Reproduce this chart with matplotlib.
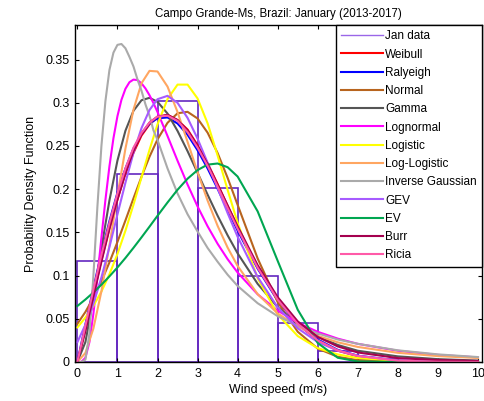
import matplotlib
matplotlib.use("Agg")
from matplotlib import pyplot as plt
from matplotlib.lines import Line2D

plt.rcParams['font.family'] = ['Liberation Sans', 'DejaVu Sans']

# histogram of January wind speed (1 m/s bins)
bin_centers = [0.5, 1.5, 2.5, 3.5, 4.5, 5.5, 6.5, 7.5, 8.5, 9.5]
bin_heights = [0.117, 0.217, 0.302, 0.201, 0.099, 0.045, 0.013, 0.004, 0.001, 0.0005]

x_main = [0, 0.2, 0.4, 0.6, 0.8, 1.0, 1.2, 1.4, 1.6, 1.8, 2.0, 2.25, 2.5, 2.75,
          3.0, 3.25, 3.5, 3.75, 4.0, 4.5, 5.0, 5.5, 6.0, 6.5, 7.0, 8.0, 9.0, 10.0]
x_fine = [0, 0.1, 0.2, 0.3, 0.4, 0.5, 0.6, 0.7, 0.8, 0.9, 1.0, 1.1, 1.2, 1.3, 1.4,
          1.5, 1.6, 1.7, 1.8, 1.9, 2.0, 2.25, 2.5, 2.75, 3.0, 3.25, 3.5, 3.75,
          4.0, 4.5, 5.0, 5.5, 6.0, 6.5, 7.0, 8.0, 9.0, 10.0]

weibull = [0, 0.038, 0.078, 0.118, 0.155, 0.188, 0.218, 0.242, 0.262, 0.275, 0.283,
           0.286, 0.280, 0.269, 0.251, 0.230, 0.206, 0.181, 0.156, 0.110, 0.072,
           0.044, 0.025, 0.013, 0.0066, 0.0014, 0.0002, 0.0]
rayleigh = [0, 0.0435, 0.0858, 0.126, 0.163, 0.196, 0.224, 0.247, 0.264, 0.276, 0.282,
            0.283, 0.276, 0.263, 0.245, 0.224, 0.2005, 0.176, 0.152, 0.108, 0.071,
            0.044, 0.026, 0.014, 0.0073, 0.0016, 0.0003, 0.0]
normal = [0.0442, 0.0579, 0.0744, 0.0936, 0.1152, 0.1389, 0.1639, 0.1894, 0.2143,
          0.2375, 0.2576, 0.2768, 0.2878, 0.2895, 0.2818, 0.2654, 0.2418, 0.2131,
          0.1818, 0.1198, 0.0692, 0.035, 0.0155, 0.006, 0.0021, 0.0002, 0.0, 0.0]
gamma = [0, 0.023, 0.0735, 0.1318, 0.187, 0.2331, 0.2677, 0.2907, 0.3029, 0.3057,
         0.3011, 0.2875, 0.2674, 0.244, 0.2189, 0.1937, 0.1693, 0.1466, 0.1257,
         0.0904, 0.0634, 0.0436, 0.0295, 0.0197, 0.013, 0.0065, 0.0033, 0.0016]
lognormal = [0, 0.0001, 0.0049, 0.023, 0.0559, 0.0984, 0.144, 0.1876, 0.2265, 0.2589,
             0.2845, 0.3034, 0.3162, 0.3238, 0.3268, 0.3262, 0.3225, 0.3165, 0.3087,
             0.2995, 0.2893, 0.2615, 0.2329, 0.2054, 0.180, 0.1571, 0.1368, 0.119,
             0.1035, 0.0783, 0.0595, 0.0454, 0.0349, 0.027, 0.021, 0.013, 0.0082,
             0.0053]
logistic = [0.040, 0.0514, 0.065, 0.0815, 0.1015, 0.125, 0.152, 0.182, 0.2136, 0.2455,
            0.275, 0.3043, 0.321, 0.321, 0.305, 0.2763, 0.239, 0.1992, 0.161, 0.097,
            0.055, 0.030, 0.016, 0.0087, 0.0046, 0.0013, 0.0003, 0.0001]
loglogistic = [0, 0.0105, 0.0388, 0.0818, 0.1352, 0.1926, 0.2471, 0.292, 0.3225,
               0.3369, 0.3362, 0.3187, 0.2893, 0.2548, 0.2197, 0.1868, 0.1576, 0.1324,
               0.1111, 0.0785, 0.0562, 0.0409, 0.0302, 0.0228, 0.0174, 0.0106, 0.0068,
               0.0046]
inv_gauss = [0, 0, 0.0027, 0.033, 0.10, 0.18, 0.25, 0.302, 0.338, 0.358, 0.367, 0.368,
             0.363, 0.353, 0.342, 0.327, 0.314, 0.298, 0.285, 0.268, 0.257, 0.224,
             0.195, 0.171, 0.151, 0.132, 0.116, 0.101, 0.088, 0.068, 0.053, 0.042,
             0.033, 0.026, 0.021, 0.0135, 0.0088, 0.0057]
gev = [0.023, 0.0431, 0.0674, 0.0978, 0.133, 0.1708, 0.2076, 0.2421, 0.2706, 0.2916,
       0.3041, 0.308, 0.2999, 0.2825, 0.2584, 0.2306, 0.2013, 0.1723, 0.1449, 0.0983,
       0.0633, 0.039, 0.0231, 0.0131, 0.0071, 0.0018, 0.0004, 0.0001]
ev = [0.0648, 0.0723, 0.0805, 0.0894, 0.0991, 0.1094, 0.1204, 0.1321, 0.1442, 0.1566,
      0.1692, 0.1846, 0.1993, 0.2121, 0.2221, 0.2284, 0.2297, 0.2254, 0.2146, 0.1743,
      0.117, 0.0605, 0.0219, 0.0049, 0.0006, 0, 0, 0]
burr = [0, 0.036, 0.076, 0.116, 0.154, 0.188, 0.219, 0.244, 0.264, 0.277, 0.284,
        0.286, 0.280, 0.268, 0.250, 0.229, 0.205, 0.181, 0.157, 0.112, 0.075, 0.047,
        0.029, 0.018, 0.011, 0.0045, 0.0022, 0.0012]
ricia = [0, 0.042, 0.084, 0.124, 0.161, 0.195, 0.224, 0.248, 0.265, 0.277, 0.284,
         0.285, 0.279, 0.266, 0.248, 0.227, 0.203, 0.178, 0.154, 0.109, 0.072, 0.044,
         0.025, 0.0135, 0.007, 0.0015, 0.0003, 0.0]

curves = [
    ('Weibull', x_main, weibull, '#ff0000'),
    ('Ralyeigh', x_main, rayleigh, '#0000ff'),
    ('Normal', x_main, normal, '#b8641e'),
    ('Gamma', x_main, gamma, '#555555'),
    ('Lognormal', x_fine, lognormal, '#ff00ff'),
    ('Logistic', x_main, logistic, '#ffff00'),
    ('Log-Logistic', x_main, loglogistic, '#ffa661'),
    ('Inverse Gaussian', x_fine, inv_gauss, '#aaaaaa'),
    ('GEV', x_main, gev, '#a65bff'),
    ('EV', x_main, ev, '#00a651'),
    ('Burr', x_main, burr, '#a5004f'),
    ('Ricia', x_main, ricia, '#ff5aa8'),
]

fig = plt.figure(figsize=(4.85, 4.01), dpi=100)
ax = fig.add_axes([0.1546, 0.0973, 0.8392, 0.8404])

ax.bar(bin_centers, bin_heights, width=1.0, facecolor='none',
       edgecolor='#6428c0', linewidth=1.2, zorder=1)

handles = [Line2D([], [], color='#9a66e8', lw=1.0)]
labels = ['Jan data']
for name, xs, ys, col in curves:
    ln, = ax.plot(xs, ys, color=col, lw=1.5, zorder=2)
    handles.append(ln)
    labels.append(name)

ax.set_xlim(-0.06, 10.1)
ax.set_ylim(0, 0.39)
ax.set_xticks(range(0, 11))
yt = [0, 0.05, 0.1, 0.15, 0.2, 0.25, 0.3, 0.35]
ax.set_yticks(yt)
ax.set_yticklabels(['0', '0.05', '0.1', '0.15', '0.2', '0.25', '0.3', '0.35'])
ax.tick_params(direction='in', length=3, width=0.8, top=True, right=True,
               labelsize=9, pad=4)
for sp in ax.spines.values():
    sp.set_linewidth(1.0)

ax.set_xlabel('Wind speed (m/s)', fontsize=9, labelpad=3)
ax.set_ylabel('Probability Density Function', fontsize=9, labelpad=6)
ax.set_title('Campo Grande-Ms, Brazil: January (2013-2017)', fontsize=8.3, pad=6)

leg = ax.legend(handles, labels, loc='upper right', bbox_to_anchor=(1.0, 1.0),
                borderaxespad=0, fontsize=8.5, handlelength=3.5,
                handletextpad=0.2, labelspacing=0.53, borderpad=0.45,
                fancybox=False, framealpha=1)
leg.get_frame().set_edgecolor('black')
leg.get_frame().set_linewidth(1.0)

fig.savefig('out.png', dpi=100)
